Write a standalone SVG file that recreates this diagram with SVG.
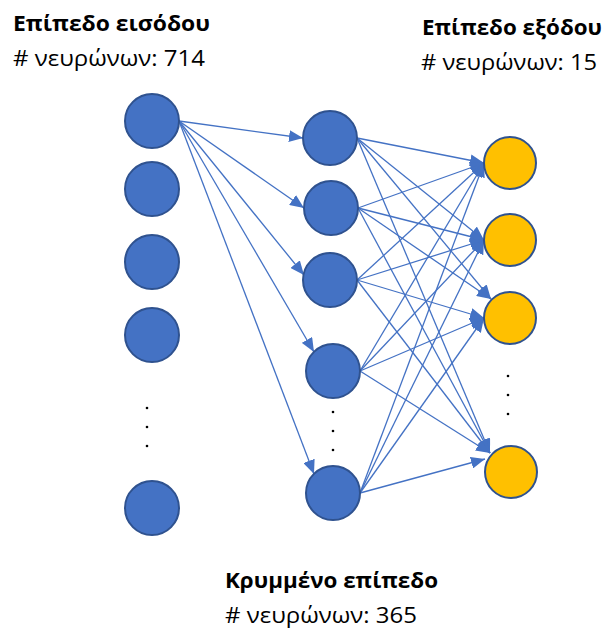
<svg xmlns="http://www.w3.org/2000/svg" width="608" height="630" viewBox="0 0 608 630">
<style>
.in{fill:#4472C4;stroke:#2F528F;stroke-width:2}
.out{fill:#FFC000;stroke:#2F528F;stroke-width:2}
.c{stroke:#4472C4;stroke-width:1.3;fill:none;marker-end:url(#ah)}
.t{font-family:"Open Sans","Noto Sans",sans-serif;font-size:21px;fill:#000}
.b{font-weight:bold}
.dot{fill:#000}
</style>
<defs>
<marker id="ah" markerUnits="userSpaceOnUse" markerWidth="14" markerHeight="12" refX="14" refY="6" orient="auto">
<path d="M0,0 L14,6 L0,12 z" fill="#4472C4"/>
</marker>
</defs>
<rect width="608" height="630" fill="#fff"/>
<g id="connectors">
<line class="c" x1="179" y1="121" x2="303" y2="138"/>
<line class="c" x1="179" y1="121" x2="304" y2="208"/>
<line class="c" x1="179" y1="121" x2="304" y2="275"/>
<line class="c" x1="179" y1="121" x2="314" y2="352"/>
<line class="c" x1="179" y1="121" x2="314" y2="474"/>
<line class="c" x1="357" y1="138" x2="484" y2="163"/>
<line class="c" x1="357" y1="138" x2="484" y2="240"/>
<line class="c" x1="357" y1="138" x2="491" y2="299"/>
<line class="c" x1="357" y1="138" x2="490" y2="453"/>
<line class="c" x1="358" y1="208" x2="484" y2="163"/>
<line class="c" x1="358" y1="208" x2="484" y2="240"/>
<line class="c" x1="358" y1="208" x2="491" y2="299"/>
<line class="c" x1="358" y1="208" x2="490" y2="453"/>
<line class="c" x1="357" y1="280" x2="484" y2="163"/>
<line class="c" x1="357" y1="280" x2="484" y2="240"/>
<line class="c" x1="357" y1="280" x2="484" y2="318"/>
<line class="c" x1="357" y1="280" x2="490" y2="453"/>
<line class="c" x1="360" y1="371" x2="484" y2="163"/>
<line class="c" x1="360" y1="371" x2="484" y2="240"/>
<line class="c" x1="360" y1="371" x2="484" y2="318"/>
<line class="c" x1="360" y1="371" x2="490" y2="453"/>
<line class="c" x1="360" y1="493" x2="484" y2="163"/>
<line class="c" x1="360" y1="493" x2="484" y2="240"/>
<line class="c" x1="360" y1="493" x2="484" y2="318"/>
<line class="c" x1="360" y1="493" x2="485" y2="459"/>
</g>
<g id="input1"><circle class="in" cx="152" cy="121" r="27"/></g>
<g id="input2"><circle class="in" cx="152" cy="189" r="27"/></g>
<g id="input3"><circle class="in" cx="152" cy="262" r="27"/></g>
<g id="input4"><circle class="in" cx="152" cy="335" r="27"/></g>
<g id="input5"><circle class="in" cx="152" cy="508" r="27"/></g>
<g id="input-dots"><circle class="dot" cx="147" cy="408" r="1.3"/><circle class="dot" cx="147" cy="427" r="1.3"/><circle class="dot" cx="147" cy="446" r="1.3"/></g>
<g id="hidden1"><circle class="in" cx="330" cy="138" r="27"/></g>
<g id="hidden2"><circle class="in" cx="331" cy="208" r="27"/></g>
<g id="hidden3"><circle class="in" cx="330" cy="280" r="27"/></g>
<g id="hidden4"><circle class="in" cx="333" cy="371" r="27"/></g>
<g id="hidden5"><circle class="in" cx="333" cy="493" r="27"/></g>
<g id="hidden-dots"><circle class="dot" cx="333" cy="412" r="1.3"/><circle class="dot" cx="333" cy="431" r="1.3"/><circle class="dot" cx="333" cy="450" r="1.3"/></g>
<g id="output1"><circle class="out" cx="510" cy="163" r="26"/></g>
<g id="output2"><circle class="out" cx="510" cy="240" r="26"/></g>
<g id="output3"><circle class="out" cx="510" cy="318" r="26"/></g>
<g id="output4"><circle class="out" cx="511" cy="472" r="26"/></g>
<g id="output-dots"><circle class="dot" cx="508" cy="376" r="1.3"/><circle class="dot" cx="508" cy="395" r="1.3"/><circle class="dot" cx="508" cy="414" r="1.3"/></g>
<g id="labels">
<text class="t b" x="13" y="31" textLength="197" lengthAdjust="spacingAndGlyphs">Επίπεδο εισόδου</text>
<text class="t" x="13" y="66" textLength="192" lengthAdjust="spacingAndGlyphs"># νευρώνων: 714</text>
<text class="t b" x="422" y="35" textLength="180" lengthAdjust="spacingAndGlyphs">Επίπεδο εξόδου</text>
<text class="t" x="421" y="70" textLength="176" lengthAdjust="spacingAndGlyphs"># νευρώνων: 15</text>
<text class="t b" x="225" y="588" textLength="213" lengthAdjust="spacingAndGlyphs">Κρυμμένο επίπεδο</text>
<text class="t" x="225" y="623" textLength="192" lengthAdjust="spacingAndGlyphs"># νευρώνων: 365</text>
</g>
</svg>
